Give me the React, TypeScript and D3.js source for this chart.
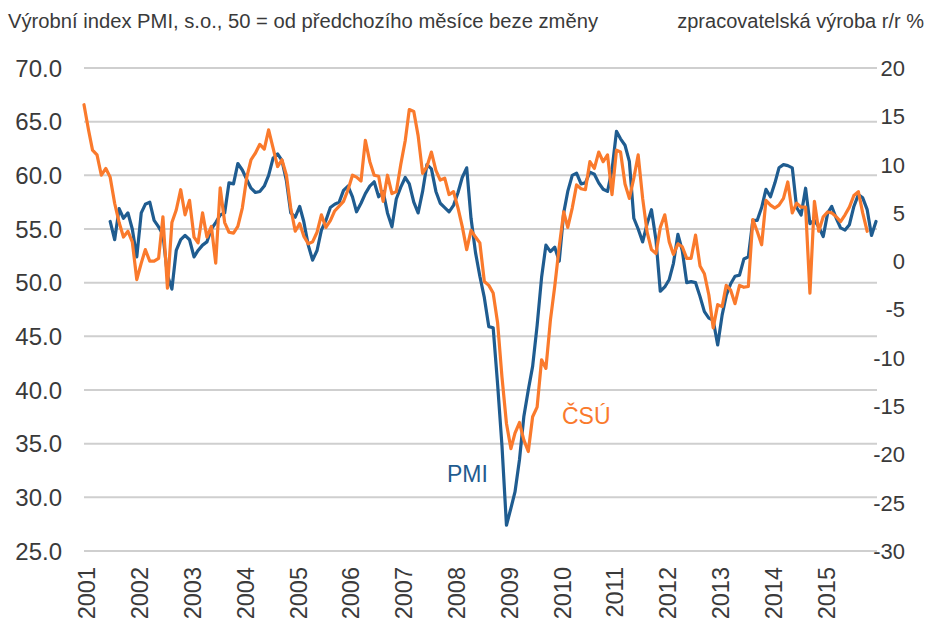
import React from "react";
import * as d3 from "d3";

// PMI (left axis), monthly from July 2001
const pmiStart = "2001-07";
const pmiValues = [
  55.7, 54.0, 56.9, 56.0, 56.5, 55.0,
  52.4, 56.5, 57.3, 57.5, 55.8, 55.2, 54.5, 50.7, 49.4, 53.0, 54.0, 54.4,
  54.0, 52.4, 53.0, 53.5, 53.8, 55.0, 55.6, 56.3, 56.5, 59.3, 59.2, 61.1,
  60.5, 59.6, 58.8, 58.4, 58.5, 59.0, 60.0, 61.6, 62.0, 61.4, 59.5, 56.5,
  56.1, 57.1, 55.7, 53.5, 52.1, 53.0, 54.9, 55.8, 57.0, 57.3, 57.5, 58.6,
  59.0, 58.0, 56.6, 57.4, 58.3, 59.0, 59.4, 58.0, 58.5, 56.5, 55.2, 57.8,
  58.9, 59.8, 59.2, 57.5, 56.5, 58.5, 61.0, 60.6, 58.5, 57.4, 57.0, 56.6,
  57.2, 58.4, 59.8, 60.7, 56.0, 52.8, 50.6, 48.6, 45.9, 45.8, 40.5, 34.8,
  27.4, 29.0, 30.5, 33.5, 37.5, 40.0, 42.2, 46.0, 50.5, 53.5, 52.9, 53.3,
  52.0, 56.5, 58.5, 60.0, 60.2, 59.2, 59.3, 60.3, 60.1, 59.3, 58.7, 58.5,
  60.5, 64.1, 63.4, 62.8, 61.3, 56.0, 55.0, 53.8, 55.5, 56.8, 54.0, 49.2,
  49.6, 50.3, 51.8, 54.5, 53.0, 50.0, 50.1, 50.0, 48.7, 47.3, 46.7, 46.5,
  44.2, 47.0, 48.8, 49.9, 50.6, 50.7, 52.2, 52.4, 55.8, 55.8, 57.0, 58.7,
  58.0, 59.3, 60.7, 61.0, 60.9, 60.7, 57.0, 56.3, 58.8, 55.5, 55.8, 55.2,
  54.3, 56.5, 57.1, 56.0, 55.1, 54.9, 55.4, 57.1, 58.2, 57.9, 56.8, 54.4,
  55.7,
];

// ČSÚ manufacturing output y/y % (right axis), monthly from January 2001
const csuStart = "2001-01";
const csuValues = [
  16.2, 13.6, 11.5, 11.0, 8.9, 9.6, 8.7, 6.0, 4.0, 2.5, 3.1, 2.0,
  -1.9, -0.2, 1.2, 0.0, 0.0, 0.3, 4.6, -2.8, 4.0, 5.3, 7.4, 4.8,
  6.3, 2.5, 1.9, 5.0, 2.5, 3.6, -0.2, 7.6, 4.0, 3.0, 2.9, 3.6,
  5.5, 8.7, 10.5, 11.2, 12.1, 11.6, 13.6, 11.7, 9.8, 10.5, 8.9, 5.5,
  3.1, 3.9, 2.6, 1.8, 2.0, 3.0, 4.8, 3.5, 4.2, 5.2, 5.7, 6.2,
  7.4, 8.9, 8.7, 8.3, 12.5, 10.3, 8.9, 8.8, 6.2, 8.9, 7.0, 7.2,
  10.0, 12.5, 15.7, 15.5, 13.0, 9.1, 9.8, 11.3, 9.4, 8.4, 8.6, 6.9,
  7.2, 5.5, 3.6, 1.2, 3.2, 2.5, 1.9, -2.1, -2.5, -3.3, -6.4, -12.0,
  -16.8, -19.4, -17.8, -16.7, -18.5, -19.7, -16.1, -15.1, -10.2, -11.1, -6.1, -2.6,
  1.5, 5.1, 3.5, 5.5, 7.9, 7.5, 7.4, 10.3, 9.6, 11.3, 10.3, 11.0,
  6.9, 11.5, 11.3, 8.0, 6.5, 8.6, 11.0, 6.5, 3.0, 1.2, 0.8, 3.5,
  4.8, 2.0, 0.7, 1.8, 1.5, 0.3, 0.3, 2.7, -0.5, -1.3, -3.5, -6.9,
  -4.5, -4.7, -2.5, -3.0, -4.4, -2.5, -2.7, -2.6, 4.3, 3.1, 1.7, 6.3,
  5.8, 5.5, 5.8, 6.5, 8.2, 5.0, 6.0, 5.6, 5.6, -3.3, 6.2, 3.1,
  4.6, 5.1, 5.0, 4.6, 4.1, 4.8, 5.6, 6.8, 7.2, 5.0, 3.1,
];

const leftTicks = [70, 65, 60, 55, 50, 45, 40, 35, 30, 25];
const rightTicks = [20, 15, 10, 5, 0, -5, -10, -15, -20, -25, -30];
const yearLabels = ["2001", "2002", "2003", "2004", "2005", "2006", "2007", "2008",
  "2009", "2010", "2011", "2012", "2013", "2014", "2015"];

const titleLeft = "Výrobní index PMI, s.o., 50 = od předchozího měsíce beze změny";
const titleRight = "zpracovatelská výroba r/r %";
const pmiLabel = "PMI";
const csuLabel = "ČSÚ";

const W = 934;
const H = 624;
const FONT = "'Liberation Sans', Arial, sans-serif";
const BLUE = "#1F5C90";
const ORANGE = "#FA7A2C";
const TEXT = "#3A3A3A";

function monthSeries(start: string, values: number[]) {
  const [y, m] = start.split("-").map(Number);
  const d0 = new Date(y, m - 1, 1);
  return values.map((v, i) => ({ date: d3.timeMonth.offset(d0, i), value: v }));
}

export default function App() {
  const x = d3.scaleTime()
    .domain([new Date(2001, 0, 1), new Date(2016, 0, 1)])
    .range([84, 876]);
  const yL = d3.scaleLinear().domain([25, 70]).range([551, 68]);
  const yR = d3.scaleLinear().domain([-30, 20]).range([551, 68]);

  const pmi = monthSeries(pmiStart, pmiValues);
  const csu = monthSeries(csuStart, csuValues);

  const linePmi = d3.line<{ date: Date; value: number }>()
    .x((d) => x(d.date))
    .y((d) => yL(d.value));
  const lineCsu = d3.line<{ date: Date; value: number }>()
    .x((d) => x(d.date))
    .y((d) => yR(d.value));

  return (
    <svg
      width={W}
      height={H}
      viewBox={`0 0 ${W} ${H}`}
      style={{ position: "absolute", left: 0, top: 0, background: "#fff" }}
      fontFamily={FONT}
    >
      <rect x={0} y={0} width={W} height={H} fill="#fff" />
      <text x={8} y={28} fontSize={20} fill={TEXT} textLength={590} lengthAdjust="spacingAndGlyphs">
        {titleLeft}
      </text>
      <text x={924} y={28} fontSize={20} fill={TEXT} textAnchor="end">
        {titleRight}
      </text>

      {leftTicks.map((t) => (
        <line key={"g" + t} x1={84} x2={877} y1={yL(t)} y2={yL(t)} stroke="#CFCFCF" strokeWidth={2} />
      ))}

      {leftTicks.map((t) => (
        <text key={"l" + t} x={62} y={yL(t)} dy="0.36em" fontSize={24} fill={TEXT} textAnchor="end">
          {d3.format(".1f")(t)}
        </text>
      ))}
      {rightTicks.map((t) => (
        <text key={"r" + t} x={905} y={yR(t)} dy="0.36em" fontSize={22} fill={TEXT} textAnchor="end">
          {String(t)}
        </text>
      ))}

      {yearLabels.map((yl) => {
        const xx = x(new Date(+yl, 0, 1)) + 3;
        return (
          <text
            key={yl}
            transform={`translate(${xx},${567}) rotate(-90)`}
            dy="0.36em"
            fontSize={23.5}
            fill={TEXT}
            textAnchor="end"
          >
            {yl}
          </text>
        );
      })}

      <path d={linePmi(pmi) || ""} fill="none" stroke={BLUE} strokeWidth={3.2} strokeLinejoin="round" strokeLinecap="round" />
      <path d={lineCsu(csu) || ""} fill="none" stroke={ORANGE} strokeWidth={3.2} strokeLinejoin="round" strokeLinecap="round" />

      <text x={447} y={482} fontSize={23} fill={BLUE}>{pmiLabel}</text>
      <text x={562} y={424} fontSize={23} fill={ORANGE}>{csuLabel}</text>
    </svg>
  );
}
